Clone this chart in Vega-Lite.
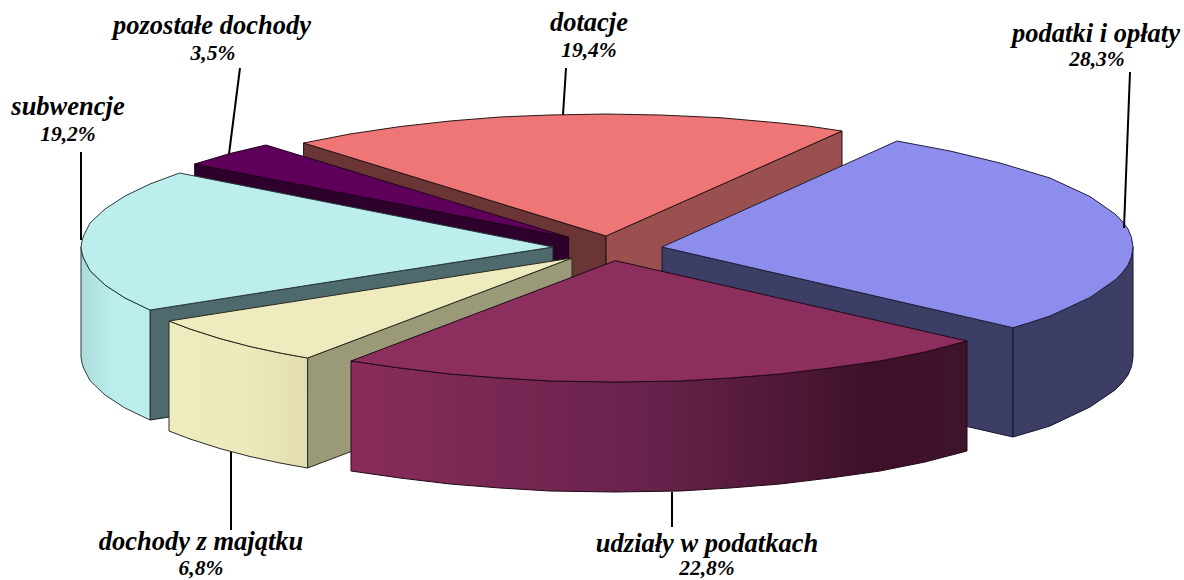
{"$schema":"https://vega.github.io/schema/vega-lite/v6.json","width":1184,"height":580,"padding":0,"autosize":{"type":"none"},"background":"white","config":{"view":{"stroke":null}},
"datasets":{
"outline":[
{"part":"redL","n":0,"x":303.6,"y":143},{"part":"redL","n":1,"x":606,"y":236},{"part":"redL","n":2,"x":606,"y":346},{"part":"redL","n":3,"x":303.6,"y":253},{"part":"redL","n":4,"x":303.6,"y":143},
{"part":"redR","n":0,"x":606,"y":236},{"part":"redR","n":1,"x":842,"y":131},{"part":"redR","n":2,"x":842,"y":241},{"part":"redR","n":3,"x":606,"y":346},{"part":"redR","n":4,"x":606,"y":236},
{"part":"redT","n":0,"x":606,"y":236},{"part":"redT","n":1,"x":303.6,"y":143},{"part":"redT","n":2,"x":350,"y":134},{"part":"redT","n":3,"x":400,"y":126.6},{"part":"redT","n":4,"x":450,"y":121},{"part":"redT","n":5,"x":500,"y":117},{"part":"redT","n":6,"x":550,"y":115},{"part":"redT","n":7,"x":606,"y":114},{"part":"redT","n":8,"x":660,"y":115},{"part":"redT","n":9,"x":720,"y":117.7},{"part":"redT","n":10,"x":780,"y":123},{"part":"redT","n":11,"x":810,"y":126.3},{"part":"redT","n":12,"x":842,"y":131},{"part":"redT","n":13,"x":606,"y":236},
{"part":"blueC","n":0,"x":662,"y":247},{"part":"blueC","n":1,"x":1013,"y":327.7},{"part":"blueC","n":2,"x":1013,"y":437},{"part":"blueC","n":3,"x":662,"y":357},{"part":"blueC","n":4,"x":662,"y":247},
{"part":"blueS","n":0,"x":1133,"y":247},{"part":"blueS","n":1,"x":1131.5,"y":256.6},{"part":"blueS","n":2,"x":1128,"y":265},{"part":"blueS","n":3,"x":1122,"y":273},{"part":"blueS","n":4,"x":1115,"y":280},{"part":"blueS","n":5,"x":1090,"y":297.5},{"part":"blueS","n":6,"x":1050,"y":316},{"part":"blueS","n":7,"x":1030,"y":322.5},{"part":"blueS","n":8,"x":1013,"y":327.7},{"part":"blueS","n":9,"x":1013,"y":437},{"part":"blueS","n":10,"x":1030,"y":432},{"part":"blueS","n":11,"x":1050,"y":426},{"part":"blueS","n":12,"x":1090,"y":407},{"part":"blueS","n":13,"x":1115,"y":390},{"part":"blueS","n":14,"x":1122,"y":383},{"part":"blueS","n":15,"x":1128,"y":375},{"part":"blueS","n":16,"x":1131.5,"y":366.6},{"part":"blueS","n":17,"x":1133,"y":357},{"part":"blueS","n":18,"x":1133,"y":247},
{"part":"blueT","n":0,"x":662,"y":247},{"part":"blueT","n":1,"x":897,"y":141},{"part":"blueT","n":2,"x":950,"y":151},{"part":"blueT","n":3,"x":1000,"y":163},{"part":"blueT","n":4,"x":1050,"y":178},{"part":"blueT","n":5,"x":1090,"y":196.5},{"part":"blueT","n":6,"x":1115,"y":214},{"part":"blueT","n":7,"x":1122,"y":221},{"part":"blueT","n":8,"x":1128,"y":229},{"part":"blueT","n":9,"x":1131.5,"y":237.4},{"part":"blueT","n":10,"x":1133,"y":247},{"part":"blueT","n":11,"x":1131.5,"y":256.6},{"part":"blueT","n":12,"x":1128,"y":265},{"part":"blueT","n":13,"x":1122,"y":273},{"part":"blueT","n":14,"x":1115,"y":280},{"part":"blueT","n":15,"x":1090,"y":297.5},{"part":"blueT","n":16,"x":1050,"y":316},{"part":"blueT","n":17,"x":1030,"y":322.5},{"part":"blueT","n":18,"x":1013,"y":327.7},{"part":"blueT","n":19,"x":662,"y":247},
{"part":"purpC","n":0,"x":194.7,"y":164},{"part":"purpC","n":1,"x":568.6,"y":237.3},{"part":"purpC","n":2,"x":568.6,"y":347},{"part":"purpC","n":3,"x":194.7,"y":274},{"part":"purpC","n":4,"x":194.7,"y":164},
{"part":"purpT","n":0,"x":568.6,"y":237.3},{"part":"purpT","n":1,"x":194.7,"y":164},{"part":"purpT","n":2,"x":230,"y":153.5},{"part":"purpT","n":3,"x":266,"y":145},{"part":"purpT","n":4,"x":568.6,"y":237.3},
{"part":"cyanC","n":0,"x":553,"y":247},{"part":"cyanC","n":1,"x":150,"y":310},{"part":"cyanC","n":2,"x":150,"y":420},{"part":"cyanC","n":3,"x":553,"y":357},{"part":"cyanC","n":4,"x":553,"y":247},
{"part":"cyanS","n":0,"x":81,"y":247},{"part":"cyanS","n":1,"x":82,"y":253},{"part":"cyanS","n":2,"x":83.5,"y":258},{"part":"cyanS","n":3,"x":90,"y":270.6},{"part":"cyanS","n":4,"x":105,"y":285},{"part":"cyanS","n":5,"x":125,"y":298},{"part":"cyanS","n":6,"x":150,"y":310},{"part":"cyanS","n":7,"x":150,"y":420},{"part":"cyanS","n":8,"x":125,"y":408},{"part":"cyanS","n":9,"x":105,"y":395},{"part":"cyanS","n":10,"x":90,"y":380.6},{"part":"cyanS","n":11,"x":83.5,"y":368},{"part":"cyanS","n":12,"x":82,"y":363},{"part":"cyanS","n":13,"x":81,"y":357},{"part":"cyanS","n":14,"x":81,"y":247},
{"part":"cyanT","n":0,"x":553,"y":247},{"part":"cyanT","n":1,"x":179.5,"y":173},{"part":"cyanT","n":2,"x":150,"y":184},{"part":"cyanT","n":3,"x":125,"y":196},{"part":"cyanT","n":4,"x":105,"y":209},{"part":"cyanT","n":5,"x":90,"y":223},{"part":"cyanT","n":6,"x":83.5,"y":236},{"part":"cyanT","n":7,"x":82,"y":241},{"part":"cyanT","n":8,"x":81,"y":247},{"part":"cyanT","n":9,"x":82,"y":253},{"part":"cyanT","n":10,"x":83.5,"y":258},{"part":"cyanT","n":11,"x":90,"y":270.6},{"part":"cyanT","n":12,"x":105,"y":285},{"part":"cyanT","n":13,"x":125,"y":298},{"part":"cyanT","n":14,"x":150,"y":310},{"part":"cyanT","n":15,"x":553,"y":247},
{"part":"yelC","n":0,"x":572,"y":258},{"part":"yelC","n":1,"x":307.6,"y":358},{"part":"yelC","n":2,"x":307.6,"y":468},{"part":"yelC","n":3,"x":572,"y":368},{"part":"yelC","n":4,"x":572,"y":258},
{"part":"yelS","n":0,"x":169,"y":321},{"part":"yelS","n":1,"x":190,"y":329},{"part":"yelS","n":2,"x":220,"y":338.6},{"part":"yelS","n":3,"x":250,"y":346.5},{"part":"yelS","n":4,"x":280,"y":353},{"part":"yelS","n":5,"x":307.6,"y":358},{"part":"yelS","n":6,"x":307.6,"y":468},{"part":"yelS","n":7,"x":280,"y":463},{"part":"yelS","n":8,"x":250,"y":456.5},{"part":"yelS","n":9,"x":220,"y":448.6},{"part":"yelS","n":10,"x":190,"y":439},{"part":"yelS","n":11,"x":169,"y":431},{"part":"yelS","n":12,"x":169,"y":321},
{"part":"yelT","n":0,"x":572,"y":258},{"part":"yelT","n":1,"x":169,"y":321},{"part":"yelT","n":2,"x":190,"y":329},{"part":"yelT","n":3,"x":220,"y":338.6},{"part":"yelT","n":4,"x":250,"y":346.5},{"part":"yelT","n":5,"x":280,"y":353},{"part":"yelT","n":6,"x":307.6,"y":358},{"part":"yelT","n":7,"x":572,"y":258},
{"part":"marS","n":0,"x":351,"y":361},{"part":"marS","n":1,"x":400,"y":368},{"part":"marS","n":2,"x":450,"y":374},{"part":"marS","n":3,"x":500,"y":378},{"part":"marS","n":4,"x":550,"y":381},{"part":"marS","n":5,"x":615,"y":382},{"part":"marS","n":6,"x":680,"y":381},{"part":"marS","n":7,"x":730,"y":378},{"part":"marS","n":8,"x":780,"y":374},{"part":"marS","n":9,"x":830,"y":368},{"part":"marS","n":10,"x":880,"y":361},{"part":"marS","n":11,"x":925,"y":352},{"part":"marS","n":12,"x":967,"y":341},{"part":"marS","n":13,"x":967,"y":451},{"part":"marS","n":14,"x":925,"y":462},{"part":"marS","n":15,"x":880,"y":471},{"part":"marS","n":16,"x":830,"y":478},{"part":"marS","n":17,"x":780,"y":484},{"part":"marS","n":18,"x":730,"y":488},{"part":"marS","n":19,"x":680,"y":491},{"part":"marS","n":20,"x":615,"y":492},{"part":"marS","n":21,"x":550,"y":491},{"part":"marS","n":22,"x":500,"y":488},{"part":"marS","n":23,"x":450,"y":484},{"part":"marS","n":24,"x":400,"y":478},{"part":"marS","n":25,"x":351,"y":471},{"part":"marS","n":26,"x":351,"y":361},
{"part":"marT","n":0,"x":615.5,"y":260.7},{"part":"marT","n":1,"x":351,"y":361},{"part":"marT","n":2,"x":400,"y":368},{"part":"marT","n":3,"x":450,"y":374},{"part":"marT","n":4,"x":500,"y":378},{"part":"marT","n":5,"x":550,"y":381},{"part":"marT","n":6,"x":615,"y":382},{"part":"marT","n":7,"x":680,"y":381},{"part":"marT","n":8,"x":730,"y":378},{"part":"marT","n":9,"x":780,"y":374},{"part":"marT","n":10,"x":830,"y":368},{"part":"marT","n":11,"x":880,"y":361},{"part":"marT","n":12,"x":925,"y":352},{"part":"marT","n":13,"x":967,"y":341},{"part":"marT","n":14,"x":615.5,"y":260.7}
],
"leaders":[
{"name":"podatki i opłaty","x":1130,"y":72,"x2":1124,"y2":228},
{"name":"dotacje","x":566,"y":68,"x2":563,"y2":115},
{"name":"pozostałe dochody","x":240,"y":68,"x2":229,"y2":154},
{"name":"subwencje","x":81,"y":152,"x2":81,"y2":240},
{"name":"dochody z majątku","x":231,"y":452,"x2":231,"y2":530},
{"name":"udziały w podatkach","x":672,"y":492,"x2":672,"y2":527}
],
"labels":[
{"text":"podatki i opłaty","kind":"name","x":1096,"y":42},{"text":"28,3%","kind":"share","x":1097,"y":66},
{"text":"dotacje","kind":"name","x":589,"y":31},{"text":"19,4%","kind":"share","x":589,"y":57},
{"text":"pozostałe dochody","kind":"name","x":212,"y":34},{"text":"3,5%","kind":"share","x":213,"y":60},
{"text":"subwencje","kind":"name","x":68,"y":115},{"text":"19,2%","kind":"share","x":68,"y":141},
{"text":"dochody z majątku","kind":"name","x":201,"y":550},{"text":"6,8%","kind":"share","x":201,"y":575},
{"text":"udziały w podatkach","kind":"name","x":707,"y":552},{"text":"22,8%","kind":"share","x":707,"y":575}
]},
"encoding":{"x":{"field":"x","type":"quantitative","axis":null,"scale":{"domain":[0,1184],"nice":false,"zero":false}},"y":{"field":"y","type":"quantitative","axis":null,"scale":{"domain":[580,0],"nice":false,"zero":false}}},
"layer":[
{"data":{"name":"outline"},"transform":[{"filter":"datum.part=='redL'"}],"mark":{"type":"line","fill":"#6b3535","stroke":"#1a1010","strokeWidth":1},"encoding":{"order":{"field":"n"}}},
{"data":{"name":"outline"},"transform":[{"filter":"datum.part=='redR'"}],"mark":{"type":"line","fill":"#9b5050","stroke":"#1a1010","strokeWidth":1},"encoding":{"order":{"field":"n"}}},
{"data":{"name":"outline"},"transform":[{"filter":"datum.part=='redT'"}],"mark":{"type":"line","fill":"#ee7676","stroke":"#2a1515","strokeWidth":1},"encoding":{"order":{"field":"n"}}},
{"data":{"name":"outline"},"transform":[{"filter":"datum.part=='blueC'"}],"mark":{"type":"line","fill":"#3c3e66","stroke":"#15152a","strokeWidth":1},"encoding":{"order":{"field":"n"}}},
{"data":{"name":"outline"},"transform":[{"filter":"datum.part=='blueS'"}],"mark":{"type":"line","fill":"#3c3e66","stroke":"#15152a","strokeWidth":1},"encoding":{"order":{"field":"n"}}},
{"data":{"name":"outline"},"transform":[{"filter":"datum.part=='blueT'"}],"mark":{"type":"line","fill":"#8d8dee","stroke":"#20203a","strokeWidth":1},"encoding":{"order":{"field":"n"}}},
{"data":{"name":"outline"},"transform":[{"filter":"datum.part=='purpC'"}],"mark":{"type":"line","fill":"#2e002c","stroke":"#150015","strokeWidth":1},"encoding":{"order":{"field":"n"}}},
{"data":{"name":"outline"},"transform":[{"filter":"datum.part=='purpT'"}],"mark":{"type":"line","fill":"#5e005a","stroke":"#200020","strokeWidth":1},"encoding":{"order":{"field":"n"}}},
{"data":{"name":"outline"},"transform":[{"filter":"datum.part=='cyanC'"}],"mark":{"type":"line","fill":"#4f6a6c","stroke":"#152020","strokeWidth":1},"encoding":{"order":{"field":"n"}}},
{"data":{"name":"outline"},"transform":[{"filter":"datum.part=='cyanS'"}],"mark":{"type":"line","fill":{"gradient":"linear","x1":0,"y1":0,"x2":1,"y2":0,"stops":[{"offset":0,"color":"#abdcdc"},{"offset":0.5,"color":"#bdeeee"},{"offset":1,"color":"#bdeeee"}]},"stroke":"#2a3a3a","strokeWidth":1},"encoding":{"order":{"field":"n"}}},
{"data":{"name":"outline"},"transform":[{"filter":"datum.part=='cyanT'"}],"mark":{"type":"line","fill":"#bdeeee","stroke":"#2a3a3a","strokeWidth":1},"encoding":{"order":{"field":"n"}}},
{"data":{"name":"outline"},"transform":[{"filter":"datum.part=='yelC'"}],"mark":{"type":"line","fill":"#9a9a78","stroke":"#2a2a20","strokeWidth":1},"encoding":{"order":{"field":"n"}}},
{"data":{"name":"outline"},"transform":[{"filter":"datum.part=='yelS'"}],"mark":{"type":"line","fill":{"gradient":"linear","x1":0,"y1":0,"x2":1,"y2":0,"stops":[{"offset":0,"color":"#eeecbe"},{"offset":0.5,"color":"#ecebbd"},{"offset":1,"color":"#e2deb2"}]},"stroke":"#2a2a20","strokeWidth":1},"encoding":{"order":{"field":"n"}}},
{"data":{"name":"outline"},"transform":[{"filter":"datum.part=='yelT'"}],"mark":{"type":"line","fill":"#eeecbe","stroke":"#2a2a20","strokeWidth":1},"encoding":{"order":{"field":"n"}}},
{"data":{"name":"outline"},"transform":[{"filter":"datum.part=='marS'"}],"mark":{"type":"line","fill":{"gradient":"linear","x1":0,"y1":0,"x2":1,"y2":0,"stops":[{"offset":0,"color":"#892c5c"},{"offset":0.5,"color":"#66224a"},{"offset":0.85,"color":"#3e1128"},{"offset":1,"color":"#40132c"}]},"stroke":"#200a18","strokeWidth":1},"encoding":{"order":{"field":"n"}}},
{"data":{"name":"outline"},"transform":[{"filter":"datum.part=='marT'"}],"mark":{"type":"line","fill":"#8c2e5e","stroke":"#200a18","strokeWidth":1},"encoding":{"order":{"field":"n"}}},
{"data":{"name":"leaders"},"mark":{"type":"rule","color":"black","strokeWidth":2},"encoding":{"x2":{"field":"x2"},"y2":{"field":"y2"}}},
{"data":{"name":"labels"},"transform":[{"filter":"datum.kind=='name'"}],"mark":{"type":"text","font":"Liberation Serif","fontWeight":"bold","fontStyle":"italic","fontSize":26.5,"align":"center","baseline":"alphabetic","color":"black"},"encoding":{"text":{"field":"text"}}},
{"data":{"name":"labels"},"transform":[{"filter":"datum.kind=='share'"}],"mark":{"type":"text","font":"Liberation Serif","fontWeight":"bold","fontStyle":"italic","fontSize":21.5,"align":"center","baseline":"alphabetic","color":"black"},"encoding":{"text":{"field":"text"}}}
]}
